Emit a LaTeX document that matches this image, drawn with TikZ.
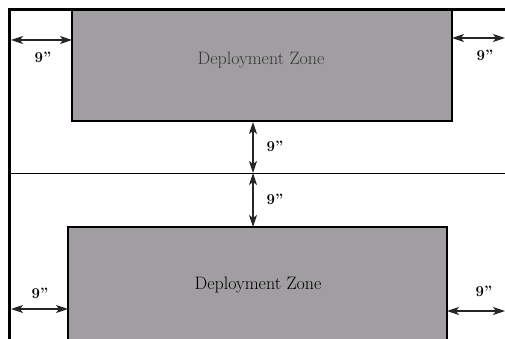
\documentclass[tikz,border=0pt]{standalone}
\usetikzlibrary{arrows.meta}
\definecolor{zonegray}{RGB}{160,158,160}
\definecolor{toptext}{RGB}{55,55,55}
\begin{document}
\begin{tikzpicture}[x=1pt,y=-1pt,
  zone/.style={draw=black,line width=2pt,fill=zonegray},
  dim/.style={{Stealth[length=12pt,width=8pt,inset=3pt]}-{Stealth[length=12pt,width=8pt,inset=3pt]},line width=1.3pt,draw=black!85},
  dimlabel/.style={font=\bfseries\fontsize{15}{15}\selectfont,inner sep=0pt},
  zonelabel/.style={font=\fontsize{18}{18}\selectfont,inner sep=0pt}]
\useasboundingbox[fill=white] (0,0) rectangle (505,339);
% zones
\path[zone] (72,10) rectangle (452,121);
\path[zone] (68,227) rectangle (447,345);
% frame
\draw[line width=3pt] (9.5,345) -- (9.5,10) -- (510,10);
\draw[line width=0.8pt] (11,173) -- (505,173);
% named points
\coordinate (tl1) at (11,40); \coordinate (tl2) at (72,40);
\coordinate (tr1) at (452,38); \coordinate (tr2) at (505,38);
\coordinate (m1) at (253,122); \coordinate (m2) at (253,173); \coordinate (m3) at (253,227);
\coordinate (bl1) at (11,309); \coordinate (bl2) at (68,309);
\coordinate (br1) at (447,311); \coordinate (br2) at (505,311);
\draw[dim] (tl1) -- (tl2);
\draw[dim] (tr1) -- (tr2);
\draw[dim] (m1) -- (m2);
\draw[dim] (m2) -- (m3);
\draw[dim] (bl1) -- (bl2);
\draw[dim] (br1) -- (br2);
% labels
\node[zonelabel,text=toptext] (z1) at (261,60) {Deployment Zone};
\node[zonelabel] (z2) at (258,285) {Deployment Zone};
\node[dimlabel] (d1) at (43,57) {9''};
\node[dimlabel] (d2) at (485,55) {9''};
\node[dimlabel] (d3) at (275,146) {9''};
\node[dimlabel] (d4) at (275,199) {9''};
\node[dimlabel] (d5) at (40,293) {9''};
\node[dimlabel] (d6) at (484,291) {9''};
\end{tikzpicture}
\end{document}
